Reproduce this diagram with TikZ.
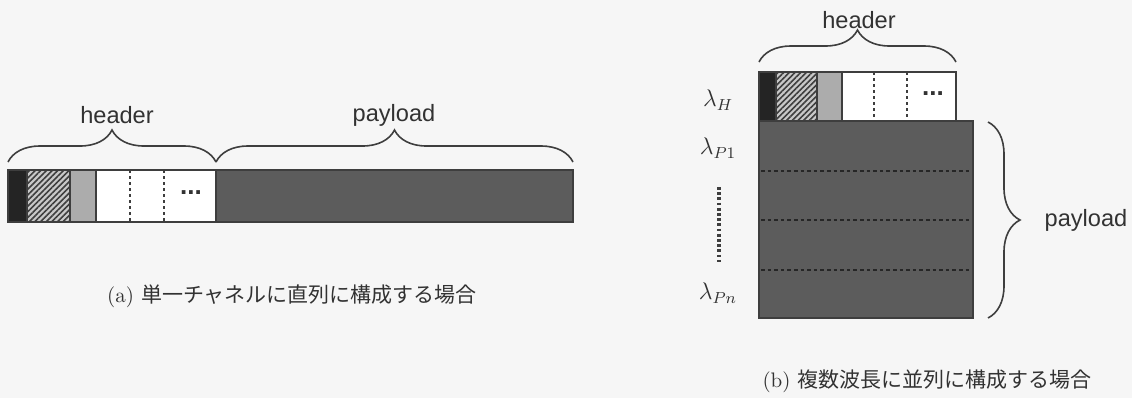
\documentclass[tikz,border=0pt]{standalone}
\usepackage{fontspec}
\newfontfamily\sansfnt{Liberation Sans}
\newfontfamily\jpfnt{Noto Sans CJK JP}
\usetikzlibrary{decorations.pathreplacing,patterns.meta,positioning}
\definecolor{cBg}{RGB}{246,246,246}
\definecolor{cBlack}{RGB}{36,36,36}
\definecolor{cHatch}{RGB}{200,200,200}
\definecolor{cLight}{RGB}{172,172,172}
\definecolor{cPay}{RGB}{92,92,92}
\definecolor{cLine}{RGB}{62,62,62}
\definecolor{cText}{RGB}{50,50,50}
\tikzset{
  cellbox/.style={draw=cLine,line width=0.7pt},
  blackcell/.style={cellbox,fill=cBlack},
  hatchcell/.style={cellbox,preaction={fill=cHatch},
                    pattern={Lines[angle=45,distance=2pt,line width=0.8pt]},
                    pattern color=cLine},
  graycell/.style={cellbox,fill=cLight},
  whitecell/.style={cellbox,fill=white},
  paycell/.style={cellbox,fill=cPay},
  vdash/.style={draw=cLine,line width=0.7pt,dash pattern=on 1.5pt off 1.5pt},
  hdash/.style={draw=black!85,line width=1pt,dash pattern=on 1.8pt off 1.5pt},
  vdots/.style={draw=cLine,line width=1.8pt,dash pattern=on 1.4pt off 1.2pt},
  brc/.style={decorate,decoration={brace,amplitude=16pt},draw=cLine,line width=0.8pt},
  lbl/.style={font=\sansfnt\fontsize{11.8}{13}\selectfont,text=cText},
  dotlbl/.style={font=\sansfnt\bfseries\fontsize{13}{14}\selectfont,text=cText},
  lamlbl/.style={font=\fontsize{11.5}{13}\selectfont,text=cText},
  caplbl/.style={font=\fontsize{10.5}{12}\selectfont,text=cText}
}

\begin{document}
\begin{tikzpicture}[x=0.5pt,y=-0.5pt]

  % background and margins
  \fill[cBg] (0,0) rectangle (1132,398);
  \useasboundingbox (0,0) rectangle (1132,398);

  % (a) serial frame
  \draw[blackcell] (8,170) rectangle (27,222);
  \draw[hatchcell] (27,170) rectangle (70,222);
  \draw[graycell]  (70,170) rectangle (96,222);
  \draw[whitecell] (96,170) rectangle (216,222);
  \draw[paycell]   (216,170) rectangle (573,222);
  \draw[vdash] (130,170) -- (130,222);
  \draw[vdash] (164,170) -- (164,222);
  \node[dotlbl] (adots) at (191,193) {...};

  \coordinate (aL) at (8,162);
  \coordinate (aM) at (216,162);
  \coordinate (aR) at (573,162);
  \draw[brc] (aL) -- (aM);
  \draw[brc] (aM) -- (aR);
  \node[lbl] (ahead) at (117,115) {header};
  \node[lbl] (apay)  at (394,115) {payload};

  \node[caplbl] (acap) at (292,296) {(a) {\jpfnt 単一チャネルに直列に構成する場合}};

  % (b) parallel frame
  \draw[blackcell] (759,72) rectangle (776,121);
  \draw[hatchcell] (776,72) rectangle (817,121);
  \draw[graycell]  (817,72) rectangle (842,121);
  \draw[whitecell] (842,72) rectangle (956,121);
  \draw[vdash] (874,72) -- (874,121);
  \draw[vdash] (907,72) -- (907,121);
  \node[dotlbl] (bdots) at (933,94) {...};

  \draw[paycell] (759,121) rectangle (973,318);
  \foreach \yy in {170.5,220,269.5}
    \draw[hdash] (761,\yy) -- (971,\yy);

  \coordinate (bL) at (759,62);
  \coordinate (bR) at (956,62);
  \draw[brc] (bL) -- (bR);
  \node[lbl] (bhead) at (859,20) {header};

  \coordinate (pT) at (988,122);
  \coordinate (pB) at (988,318);
  \draw[brc] (pT) -- (pB);
  \node[lbl] (bpay) at (1086,220) {payload};

  % wavelengths
  \node[lamlbl] (lamH)  at (718,100) {$\lambda_{H}$};
  \node[lamlbl] (lamP1) at (718,148) {$\lambda_{P1}$};
  \node[lamlbl] (lamPn) at (718,293) {$\lambda_{Pn}$};
  \coordinate (dT) at (719,187);
  \coordinate (dB) at (719,262);
  \draw[vdots] (dT) -- (dB);

  \node[caplbl] (bcap) at (927,381) {(b) {\jpfnt 複数波長に並列に構成する場合}};

\end{tikzpicture}
\end{document}
